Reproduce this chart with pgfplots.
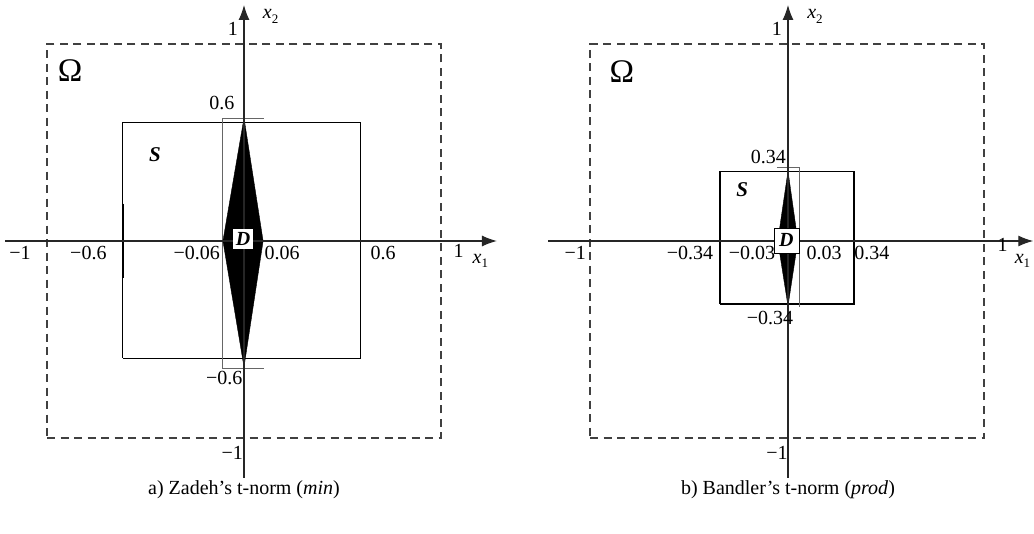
\documentclass[border=0pt]{standalone}
\usepackage{pgfplots}
\pgfplotsset{compat=1.18}
\usepackage{fontspec}
\setmainfont{Liberation Serif}
\usetikzlibrary{arrows.meta}
\newcommand{\lab}{\fontsize{20}{22}\selectfont}
\newcommand{\sub}[1]{\textit{x}\raisebox{-0.45ex}{\fontsize{13}{14}\selectfont #1}}
\pgfplotsset{panel/.style={width=517pt,height=534pt,scale only axis,hide axis,clip=false,
  ymin=-1.4873,ymax=1.2234},
  axl/.style={draw=black!85,line width=1.2pt,-{Latex[length=15pt,width=11pt]}},
  dsq/.style={draw=black!75,line width=1.3pt,dash pattern=on 8pt off 5.5pt},
  srect/.style={draw=black,line width=1.1pt},
  thin/.style={draw=black!60,line width=0.6pt}}
\begin{document}
\begin{tikzpicture}
\begin{axis}[panel,at={(0,0)},anchor=south west,xmin=-1.2386,xmax=1.3858]
\addplot[draw=none,forget plot] coordinates {(-1.2386,-1.4873)(1.3858,1.2234)};
\addplot[dsq] coordinates {(-1,-1)(1,-1)(1,1)(-1,1)(-1,-1)};
\addplot[srect] coordinates {(-0.615,-0.595)(0.59,-0.595)(0.59,0.6)(-0.615,0.6)(-0.615,-0.595)};
\addplot[draw=black,line width=2pt] coordinates {(-0.615,0.19)(-0.615,-0.19)};
\addplot[thin] coordinates {(0.10,0.625)(-0.112,0.625)(-0.112,-0.645)(0.10,-0.645)};
\addplot[fill=black,draw=black] coordinates {(0,0.625)(0.097,0)(0,-0.64)(-0.107,0)} -- cycle;
\addplot[axl] coordinates {(-1.213,0)(1.284,0)};
\addplot[axl] coordinates {(0,-1.203)(0,1.198)};
\node[fill=white,inner sep=3pt] at (axis cs:-0.005,0.01) {\fontsize{20}{22}\selectfont\bfseries\itshape D};
\node at (axis cs:-0.112,0.70) {\lab 0.6};
\node at (axis cs:-0.10,-0.695) {\lab −0.6};
\node at (axis cs:-1.137,-0.06) {\lab −1};
\node at (axis cs:-0.79,-0.06) {\lab −0.6};
\node at (axis cs:-0.24,-0.06) {\lab −0.06};
\node at (axis cs:0.193,-0.06) {\lab 0.06};
\node at (axis cs:0.706,-0.06) {\lab 0.6};
\node at (axis cs:1.09,-0.05) {\lab 1};
\node at (axis cs:1.20,-0.10) {\lab\sub{1}};
\node at (axis cs:-0.056,1.075) {\lab 1};
\node at (axis cs:0.135,1.14) {\lab\sub{2}};
\node at (axis cs:-0.06,-1.076) {\lab −1};
\node at (axis cs:-0.883,0.863) {\fontsize{33}{35}\selectfont Ω};
\node at (axis cs:-0.452,0.437) {\fontsize{21}{23}\selectfont\bfseries\itshape S};
\node at (axis cs:0,-1.264) {\fontsize{20}{24}\selectfont a) Zadeh’s t-norm (\textit{min})};
\end{axis}
\begin{axis}[panel,at={(517pt,0)},anchor=south west,xmin=-1.3756,xmax=1.2487]
\addplot[draw=none,forget plot] coordinates {(-1.3756,-1.4873)(1.2487,1.2234)};
\addplot[dsq] coordinates {(-1.005,-1)(0.995,-1)(0.995,1)(-1.005,1)(-1.005,-1)};
\addplot[srect] coordinates {(-0.345,-0.32)(0.335,-0.32)(0.335,0.355)(-0.345,0.355)(-0.345,-0.32)};
\addplot[draw=black,line width=2pt] coordinates {(-0.345,0.13)(-0.345,-0.08)};
\addplot[thin] coordinates {(-0.056,0.375)(0.056,0.375)(0.056,-0.335)};
\addplot[fill=black,draw=black] coordinates {(0,0.355)(0.05,0)(0,-0.33)(-0.052,0)} -- cycle;
\addplot[axl] coordinates {(-1.218,0)(1.245,0)};
\addplot[axl] coordinates {(0,-1.203)(0,1.198)};
\node[fill=white,draw=black,line width=0.8pt,minimum size=25pt,inner sep=1pt] at (axis cs:-0.008,0.003) {\fontsize{20}{22}\selectfont\bfseries\itshape D};
\node at (axis cs:-0.10,0.426) {\lab 0.34};
\node at (axis cs:-0.091,-0.39) {\lab −0.34};
\node at (axis cs:-1.08,-0.06) {\lab −1};
\node at (axis cs:-0.497,-0.06) {\lab −0.34};
\node at (axis cs:-0.183,-0.06) {\lab −0.03};
\node at (axis cs:0.183,-0.06) {\lab 0.03};
\node at (axis cs:0.426,-0.06) {\lab 0.34};
\node at (axis cs:1.09,-0.02) {\lab 1};
\node at (axis cs:1.19,-0.10) {\lab\sub{1}};
\node at (axis cs:-0.056,1.075) {\lab 1};
\node at (axis cs:0.137,1.14) {\lab\sub{2}};
\node at (axis cs:-0.056,-1.076) {\lab −1};
\node at (axis cs:-0.843,0.858) {\fontsize{33}{35}\selectfont Ω};
\node at (axis cs:-0.233,0.259) {\fontsize{21}{23}\selectfont\bfseries\itshape S};
\node at (axis cs:0,-1.264) {\fontsize{20}{24}\selectfont b) Bandler’s t-norm (\textit{prod})};
\end{axis}
\end{tikzpicture}
\end{document}
